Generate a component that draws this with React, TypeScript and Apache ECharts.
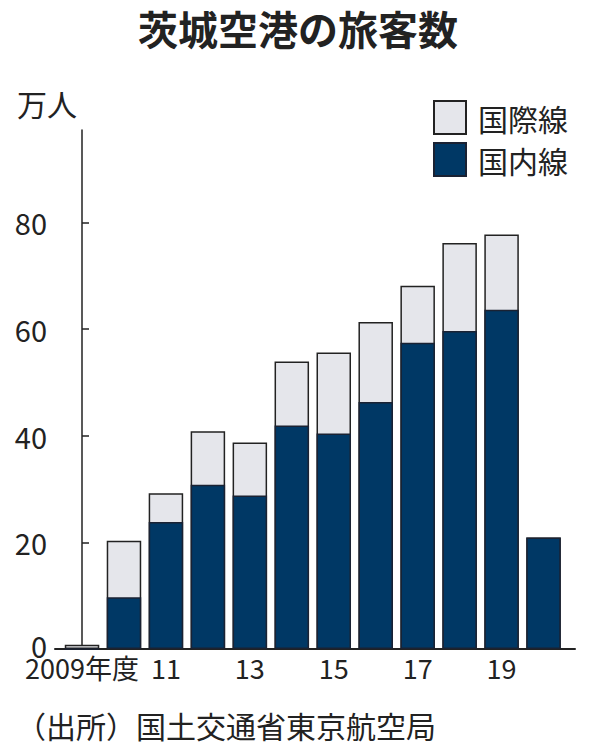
import React, { useEffect, useRef } from 'react';
import * as echarts from 'echarts';

// 年度（2009〜2020）
const years = ['2009', '10', '11', '12', '13', '14', '15', '16', '17', '18', '19', '20'];
// 国内線（万人）
const domestic = [0, 9.7, 23.8, 30.8, 28.8, 41.9, 40.4, 46.3, 57.4, 59.6, 63.6, 20.9];
// 国際線（万人）
const international = [0.8, 10.6, 5.4, 10.0, 9.9, 12.0, 15.2, 15.0, 10.7, 16.5, 14.1, 0];
// 目盛り
const yTicks = [0, 20, 40, 60, 80];
const xTicks = [0, 2, 4, 6, 8, 10];
const xTickLabels = ['2009年度', '11', '13', '15', '17', '19'];

const FONT = '"Noto Sans CJK JP", sans-serif';

const App = () => {
  const chartRef = useRef<HTMLDivElement>(null);

  useEffect(() => {
    document.body.style.margin = '0';
    if (!chartRef.current) return;
    const chart = echarts.init(chartRef.current, null, { renderer: 'svg' });

    // 国際線は国内線の上に積む（合計の棒の上に国内線の棒を重ねる）
    const totals = years.map((_, i) => domestic[i] + international[i]);

    const options = {
      animation: false,
      backgroundColor: '#fff',
      title: {
        text: '茨城空港の旅客数',
        left: 'center',
        top: 3,
        textStyle: {
          fontFamily: FONT,
          fontSize: 40,
          fontWeight: 'bold',
          color: '#222',
        },
      },
      legend: {
        data: ['国際線', '国内線'],
        orient: 'vertical',
        left: 428,
        top: 95,
        itemWidth: 32,
        itemHeight: 33,
        itemGap: 7,
        icon: 'rect',
        textStyle: {
          fontFamily: FONT,
          fontSize: 30,
          color: '#222',
          padding: [0, 0, 0, 7],
        },
      },
      grid: {
        left: 55,
        right: 21,
        top: 130,
        bottom: 107,
      },
      xAxis: {
        type: 'value',
        min: -0.644,
        max: 11.75,
        axisLine: { show: true, lineStyle: { color: '#222', width: 2 } },
        axisTick: { show: false },
        splitLine: { show: false },
        axisLabel: {
          customValues: xTicks,
          showMinLabel: true,
          hideOverlap: false,
          margin: 5,
          fontFamily: FONT,
          fontSize: 27,
          color: '#222',
          formatter: (v: number) => xTickLabels[xTicks.indexOf(Math.round(v))] ?? '',
        },
      },
      yAxis: {
        type: 'value',
        min: 0,
        max: 97.3,
        axisLine: { show: true, lineStyle: { color: '#222', width: 1.5 } },
        axisTick: {
          show: true,
          inside: true,
          length: 7,
          customValues: yTicks,
          lineStyle: { color: '#222', width: 1.5 },
        },
        splitLine: { show: false },
        axisLabel: {
          customValues: yTicks,
          showMinLabel: true,
          margin: 8,
          fontFamily: FONT,
          fontSize: 29,
          color: '#222',
          formatter: (v: number) => (v === 0 ? '{zero|0}' : String(v)),
          rich: {
            zero: {
              fontFamily: FONT,
              fontSize: 29,
              color: '#222',
              padding: [0, 0, 8, 0],
            },
          },
        },
      },
      series: [
        {
          name: '国際線',
          type: 'bar',
          barWidth: 34.5,
          barGap: '-100%',
          data: totals.map((v, i) => [i, v]),
          itemStyle: { color: '#e5e6eb', borderColor: '#222', borderWidth: 1.5 },
        },
        {
          name: '国内線',
          type: 'bar',
          barWidth: 34.5,
          barGap: '-100%',
          data: domestic.map((v, i) => [i, v]),
          itemStyle: { color: '#003865', borderColor: '#1a2233', borderWidth: 1.5 },
        },
      ],
      graphic: [
        {
          type: 'text',
          left: 17,
          top: 88,
          style: {
            text: '万人',
            fontFamily: FONT,
            fontSize: 30,
            fill: '#222',
          },
        },
        {
          type: 'text',
          left: 16,
          top: 710,
          style: {
            text: '（出所）国土交通省東京航空局',
            fontFamily: FONT,
            fontSize: 30,
            fill: '#222',
          },
        },
      ],
    };

    chart.setOption(options);
    return () => chart.dispose();
  }, []);

  return <div ref={chartRef} style={{ width: 596, height: 756 }} />;
};

export default App;
